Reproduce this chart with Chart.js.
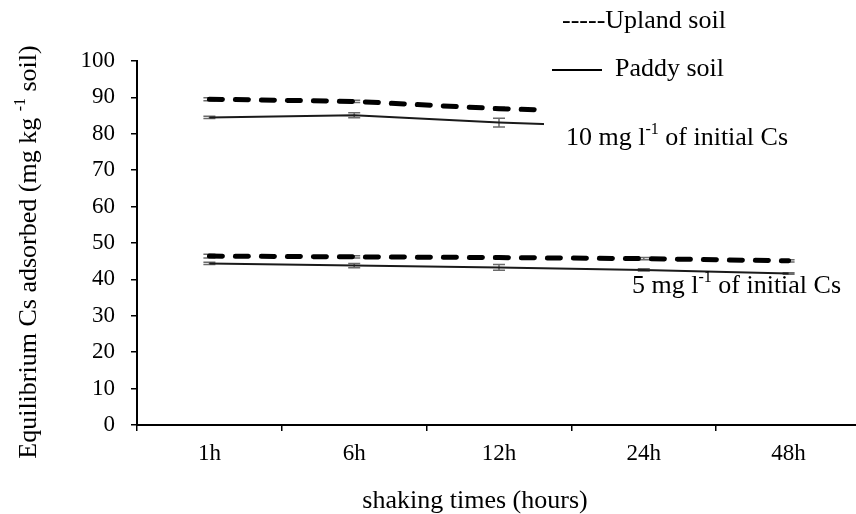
<!DOCTYPE html>
<html>
<head>
<meta charset="utf-8">
<script src="https://cdn.jsdelivr.net/npm/chart.js@4.4.1/dist/chart.umd.min.js"></script>
<style>
  html, body { margin: 0; padding: 0; background: #fff; overflow: hidden; }
  #wrap { width: 856px; height: 514px; overflow: hidden; }
</style>
</head>
<body>
<div id="wrap"><canvas id="chart" width="870" height="514"></canvas></div>
<script>
const serif = '"Liberation Serif", "Times New Roman", serif';

const hours = ["1h", "6h", "12h", "24h", "48h"];

// 10 mg/l initial Cs
const upland10 = [89.5, 88.9, 86.9, 85.7, 85.0];
const paddy10 = [84.5, 85.1, 83.1, 81.7, 80.8];
const upland10Err = [0.4, 0.3, 0.4, 0.3, 0.3];
const paddy10Err = [0.3, 0.7, 1.2, 0.5, 0.5];

// 5 mg/l initial Cs
const upland5 = [46.4, 46.2, 46.0, 45.7, 45.1];
const paddy5 = [44.4, 43.8, 43.3, 42.6, 41.6];
const upland5Err = [0.5, 0.3, 0.3, 0.3, 0.3];
const paddy5Err = [0.3, 0.6, 0.8, 0.3, 0.2];

const yTicks = { min: 0, max: 100, step: 10 };

const uplandStyle = {
  borderColor: "#000", borderWidth: 5, borderDash: [13, 13],
  borderCapStyle: "round", pointRadius: 0, tension: 0, fill: false
};
const paddyStyle = {
  borderColor: "#1a1a1a", borderWidth: 2, pointRadius: 0, tension: 0, fill: false
};

// text with superscript pieces: parts = [[text, isSup], ...]
function richText(ctx, parts, x, y, size, align) {
  const supSize = Math.round(size * 0.62);
  const widths = parts.map(([t, sup]) => {
    ctx.font = (sup ? supSize : size) + "px " + serif;
    return ctx.measureText(t).width;
  });
  const total = widths.reduce((a, b) => a + b, 0);
  let cx = align === "center" ? x - total / 2 : x;
  ctx.textAlign = "left";
  ctx.textBaseline = "alphabetic";
  parts.forEach(([t, sup], i) => {
    ctx.font = (sup ? supSize : size) + "px " + serif;
    ctx.fillText(t, cx, sup ? y - size * 0.42 : y);
    cx += widths[i];
  });
}

const extras = {
  id: "extras",
  beforeDatasetsDraw(chart) {
    const { ctx, scales: { x, y } } = chart;
    ctx.save();
    ctx.strokeStyle = "#6b6b6b";
    ctx.lineWidth = 1.5;
    [[upland10, upland10Err], [paddy10, paddy10Err], [upland5, upland5Err], [paddy5, paddy5Err]]
      .forEach(([vals, errs]) => {
        vals.forEach((v, i) => {
          const px = x.getPixelForValue(i);
          const top = y.getPixelForValue(v + errs[i]);
          const bot = y.getPixelForValue(v - errs[i]);
          ctx.beginPath();
          ctx.moveTo(px, top); ctx.lineTo(px, bot);
          ctx.moveTo(px - 6, top); ctx.lineTo(px + 6, top);
          ctx.moveTo(px - 6, bot); ctx.lineTo(px + 6, bot);
          ctx.stroke();
        });
      });
    ctx.restore();
  },
  afterDatasetsDraw(chart) {
    const { ctx } = chart;
    ctx.save();
    // label box over the right part of the 10 mg lines
    ctx.fillStyle = "#fff";
    ctx.fillRect(544, 92, 330, 66);
    ctx.fillStyle = "#000";
    richText(ctx, [["10 mg l", false], ["-1", true], [" of initial Cs", false]], 566, 145, 26);
    richText(ctx, [["5 mg l", false], ["-1", true], [" of initial Cs", false]], 632, 293, 26);

    // legend
    richText(ctx, [["-----Upland soil", false]], 562, 28, 26);
    ctx.strokeStyle = "#000";
    ctx.lineWidth = 2;
    ctx.beginPath();
    ctx.moveTo(552, 70); ctx.lineTo(602, 70);
    ctx.stroke();
    richText(ctx, [["Paddy soil", false]], 615, 76, 26);

    // axis titles
    richText(ctx, [["shaking times (hours)", false]], 475, 508, 26, "center");
    ctx.translate(36, 252);
    ctx.rotate(-Math.PI / 2);
    richText(ctx, [["Equilibrium Cs adsorbed (mg kg ", false], ["-1", true], [" soil)", false]], 0, 0, 26, "center");
    ctx.restore();
  }
};

new Chart(document.getElementById("chart"), {
  type: "line",
  data: {
    labels: hours,
    datasets: [
      { label: "Upland soil 10", data: upland10, ...uplandStyle },
      { label: "Paddy soil 10", data: paddy10, ...paddyStyle },
      { label: "Upland soil 5", data: upland5, ...uplandStyle },
      { label: "Paddy soil 5", data: paddy5, ...paddyStyle }
    ]
  },
  options: {
    responsive: false,
    animation: false,
    layout: { padding: { top: 61, right: 9, left: 0, bottom: 0 } },
    plugins: { legend: { display: false }, tooltip: { enabled: false } },
    scales: {
      x: {
        offset: true,
        afterFit: s => { s.height = 89; },
        ticks: { color: "#000", padding: 9, font: { family: serif, size: 23 } },
        grid: { offset: true, drawOnChartArea: false, tickLength: 6, color: "#000", lineWidth: 1.5 },
        border: { color: "#000", width: 2 }
      },
      y: {
        min: yTicks.min,
        max: yTicks.max,
        afterFit: s => { s.width = 137; },
        ticks: { stepSize: yTicks.step, color: "#000", padding: 16, font: { family: serif, size: 23 } },
        grid: { drawOnChartArea: false, tickLength: 6, color: "#000", lineWidth: 1.5 },
        border: { color: "#000", width: 2 }
      }
    }
  },
  plugins: [extras]
});
</script>
</body>
</html>
